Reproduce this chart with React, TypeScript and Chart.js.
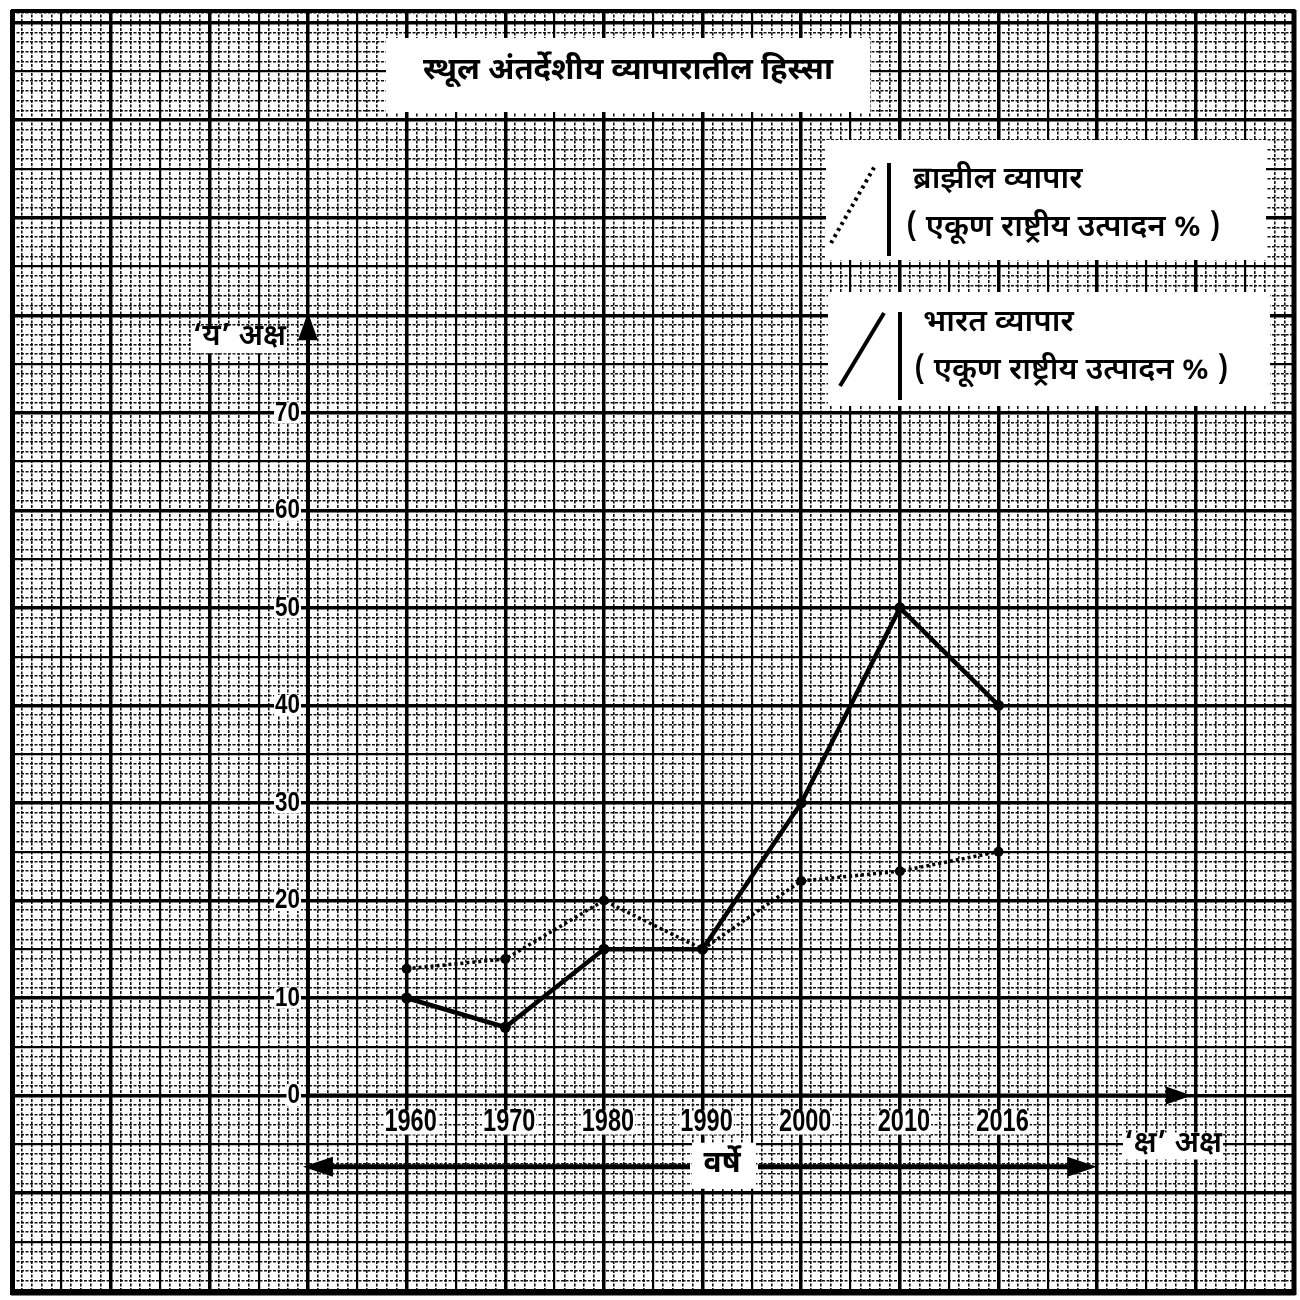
import React, { useEffect, useRef } from "react";
import { Chart, registerables } from "chart.js";

Chart.register(...registerables);

// ---- data ----
const years = ["1960", "1970", "1980", "1990", "2000", "2010", "2016"];
const indiaTrade = [10, 7, 15, 15, 30, 50, 40];
const brazilTrade = [13, 14, 20, 15, 22, 23, 25];
const yTickValues = [0, 10, 20, 30, 40, 50, 60, 70];

// ---- texts ----
const titleText = "स्थूल अंतर्देशीय व्यापारातील हिस्सा";
const brazilLabel = "ब्राझील व्यापार";
const indiaLabel = "भारत व्यापार";
const legendSub = "( एकूण राष्ट्रीय उत्पादन % )";
const yAxisTitle = "‘य’ अक्ष";
const xAxisTitle = "‘क्ष’ अक्ष";
const yearsCaption = "वर्षे";

const DEVA = "'Noto Sans Devanagari', 'Lohit Devanagari', 'Noto Sans', 'DejaVu Sans', sans-serif";
const NUM = "'Liberation Sans Narrow', 'Liberation Sans', Arial, sans-serif";

const X_MIN = -4;
const X_MAX = 9;
const Y_MIN = -20.4;
const Y_MAX = 111.3;

const range = (a: number, b: number) => {
  const out: number[] = [];
  for (let k = a; k <= b; k++) out.push(k);
  return out;
};

function whiteText(
  ctx: CanvasRenderingContext2D,
  text: string,
  x: number,
  y: number,
  align: CanvasTextAlign,
  font: string,
  pad = 3,
  sx = 1
) {
  ctx.save();
  ctx.font = font;
  ctx.textAlign = align;
  ctx.textBaseline = "middle";
  const m = ctx.measureText(text);
  const w = m.width * sx;
  const left = align === "center" ? x - w / 2 : align === "right" ? x - w : x;
  const h = (m.actualBoundingBoxAscent || 12) + (m.actualBoundingBoxDescent || 4);
  ctx.fillStyle = "#fff";
  ctx.fillRect(left - pad, y - h / 2 - pad, w + pad * 2, h + pad * 2);
  ctx.fillStyle = "#000";
  ctx.translate(x, y);
  ctx.scale(sx, 1);
  ctx.fillText(text, 0, 0);
  ctx.restore();
}

const paperPlugin = {
  id: "paperPlugin",
  beforeDatasetsDraw(chart: any) {
    const ctx: CanvasRenderingContext2D = chart.ctx;
    const xs = chart.scales.x;
    const ys = chart.scales.y;
    const px = (v: number) => xs.getPixelForValue(v);
    const py = (v: number) => ys.getPixelForValue(v);
    const ca = chart.chartArea;
    ctx.save();

    // outer frame
    ctx.strokeStyle = "#000";
    ctx.lineWidth = 4;
    ctx.strokeRect(ca.left + 1, ca.top + 1, ca.right - ca.left - 2, ca.bottom - ca.top - 2);

    // title box
    ctx.fillStyle = "#fff";
    ctx.fillRect(386, 38, 484, 74);
    ctx.fillStyle = "#000";
    ctx.font = `bold 31px ${DEVA}`;
    ctx.textAlign = "center";
    ctx.textBaseline = "middle";
    ctx.fillText(titleText, 628, 73);

    // legend boxes
    ctx.fillStyle = "#fff";
    ctx.fillRect(826, 140, 440, 120);
    ctx.fillRect(828, 292, 442, 114);

    // brazil legend symbol (dotted slash)
    ctx.strokeStyle = "#000";
    ctx.lineWidth = 4;
    ctx.setLineDash([3, 4]);
    ctx.beginPath();
    ctx.moveTo(831, 243);
    ctx.lineTo(876, 164);
    ctx.stroke();
    ctx.setLineDash([]);
    ctx.lineWidth = 4;
    ctx.beginPath();
    ctx.moveTo(889, 163);
    ctx.lineTo(889, 256);
    ctx.stroke();

    // india legend symbol (solid slash)
    ctx.beginPath();
    ctx.moveTo(840, 386);
    ctx.lineTo(884, 313);
    ctx.stroke();
    ctx.beginPath();
    ctx.moveTo(900, 312);
    ctx.lineTo(900, 400);
    ctx.stroke();

    ctx.fillStyle = "#000";
    ctx.textAlign = "left";
    ctx.textBaseline = "middle";
    ctx.font = `600 31px ${DEVA}`;
    ctx.fillText(brazilLabel, 913, 182);
    ctx.fillText(legendSub, 906, 230);
    ctx.fillText(indiaLabel, 923, 325);
    ctx.fillText(legendSub, 914, 373);

    // axes
    const ox = px(-1);
    const oy = py(0);
    ctx.lineWidth = 4;
    ctx.beginPath();
    ctx.moveTo(ox, oy + 2);
    ctx.lineTo(ox, py(78.5));
    ctx.stroke();
    const ty = py(80.3);
    ctx.beginPath();
    ctx.moveTo(ox, ty);
    ctx.lineTo(ox - 10, ty + 28);
    ctx.lineTo(ox + 10, ty + 28);
    ctx.closePath();
    ctx.fill();

    ctx.beginPath();
    ctx.moveTo(ox - 2, oy);
    ctx.lineTo(px(7.75), oy);
    ctx.stroke();
    const tx = px(7.96);
    ctx.beginPath();
    ctx.moveTo(tx, oy);
    ctx.lineTo(tx - 26, oy - 9);
    ctx.lineTo(tx - 26, oy + 9);
    ctx.closePath();
    ctx.fill();

    // y tick labels
    yTickValues.forEach((v) => {
      whiteText(ctx, String(v), ox - 8, py(v), "right", `bold 28px ${NUM}`, 1, 0.8);
    });
    // x tick labels
    years.forEach((lab, i) => {
      whiteText(ctx, lab, px(i) + 4, oy + 27, "center", `bold 31px ${NUM}`, 1, 0.76);
    });

    // axis titles
    whiteText(ctx, yAxisTitle, ox - 22, py(77.5), "right", `600 30px ${DEVA}`, 1);
    whiteText(ctx, xAxisTitle, 1124, 1146, "left", `600 30px ${DEVA}`, 1);

    // years double arrow
    const ay = py(-7.3);
    ctx.lineWidth = 5;
    ctx.beginPath();
    ctx.moveTo(ox + 20, ay);
    ctx.lineTo(690, ay);
    ctx.stroke();
    ctx.beginPath();
    ctx.moveTo(ox - 5, ay);
    ctx.lineTo(ox + 25, ay - 10);
    ctx.lineTo(ox + 25, ay + 10);
    ctx.closePath();
    ctx.fill();
    const rx = px(7);
    ctx.beginPath();
    ctx.moveTo(758, ay);
    ctx.lineTo(rx - 20, ay);
    ctx.stroke();
    ctx.beginPath();
    ctx.moveTo(rx, ay);
    ctx.lineTo(rx - 30, ay - 10);
    ctx.lineTo(rx - 30, ay + 10);
    ctx.closePath();
    ctx.fill();
    ctx.fillStyle = "#fff";
    ctx.fillRect(692, ay - 24, 64, 46);
    ctx.fillStyle = "#000";
    ctx.font = `bold 30px ${DEVA}`;
    ctx.textAlign = "center";
    ctx.textBaseline = "middle";
    ctx.fillText(yearsCaption, 722, ay);

    ctx.restore();
  },
};

export default function App() {
  const ref = useRef<HTMLCanvasElement | null>(null);

  useEffect(() => {
    if (!ref.current) return;

    const minorX = range(X_MIN * 10, X_MAX * 10).filter((k) => k % 5 !== 0).map((k) => k / 10);
    const majorX = range(X_MIN * 2, X_MAX * 2).map((k) => k / 2);
    const minorY = range(Math.ceil(Y_MIN), Math.floor(Y_MAX)).filter((k) => k % 5 !== 0);
    const majorY = range(Math.ceil(Y_MIN / 5), Math.floor(Y_MAX / 5)).map((k) => k * 5);

    const isTen = (v: number) => Math.abs(v - Math.round(v)) < 1e-6;

    const chart = new Chart(ref.current, {
      type: "line",
      data: {
        datasets: [
          {
            label: "Brazil",
            data: brazilTrade.map((v, i) => ({ x: i, y: v })),
            borderColor: "#000",
            backgroundColor: "#000",
            borderWidth: 3.5,
            borderDash: [3, 3],
            pointRadius: 5,
            pointBorderWidth: 0,
            pointBackgroundColor: "#000",
            tension: 0,
            xAxisID: "x",
            yAxisID: "y",
          },
          {
            label: "India",
            data: indiaTrade.map((v, i) => ({ x: i, y: v })),
            borderColor: "#000",
            backgroundColor: "#000",
            borderWidth: 4.5,
            pointRadius: 5.5,
            pointBorderWidth: 0,
            pointBackgroundColor: "#000",
            tension: 0,
            xAxisID: "x",
            yAxisID: "y",
          },
        ],
      },
      options: {
        responsive: false,
        maintainAspectRatio: false,
        animation: false,
        layout: { padding: { left: 12, top: 10, right: 3, bottom: 4 } },
        plugins: { legend: { display: false }, tooltip: { enabled: false }, title: { display: false } },
        scales: {
          xm: {
            type: "linear",
            position: "bottom",
            min: X_MIN,
            max: X_MAX,
            afterBuildTicks: (s: any) => { s.ticks = minorX.map((v) => ({ value: v })); },
            ticks: { display: false, autoSkip: false },
            grid: { drawTicks: false, color: "#111", lineWidth: 1.6, z: -2 },
            border: { display: false, dash: [3, 1.5] },
          },
          ym: {
            type: "linear",
            position: "left",
            min: Y_MIN,
            max: Y_MAX,
            afterBuildTicks: (s: any) => { s.ticks = minorY.map((v) => ({ value: v })); },
            ticks: { display: false, autoSkip: false },
            grid: { drawTicks: false, color: "#111", lineWidth: 1.6, z: -2 },
            border: { display: false, dash: [3, 1.5] },
          },
          x: {
            type: "linear",
            position: "bottom",
            min: X_MIN,
            max: X_MAX,
            afterBuildTicks: (s: any) => { s.ticks = majorX.map((v) => ({ value: v })); },
            ticks: { display: false, autoSkip: false },
            grid: {
              drawTicks: false,
              color: "#000",
              z: -1,
              lineWidth: (c: any) => (c.tick && isTen(c.tick.value) ? 3.5 : 2.2),
            },
            border: { display: false },
          },
          y: {
            type: "linear",
            position: "left",
            min: Y_MIN,
            max: Y_MAX,
            afterBuildTicks: (s: any) => { s.ticks = majorY.map((v) => ({ value: v })); },
            ticks: { display: false, autoSkip: false },
            grid: {
              drawTicks: false,
              color: "#000",
              z: -1,
              lineWidth: (c: any) => (c.tick && c.tick.value % 10 === 0 ? 3.5 : 2.2),
            },
            border: { display: false },
          },
        },
      },
      plugins: [paperPlugin],
    } as any);

    return () => chart.destroy();
  }, []);

  return (
    <div style={{ position: "absolute", left: 0, top: 0, width: 1300, height: 1300, background: "#fff" }}>
      <canvas ref={ref} width={1300} height={1300} style={{ display: "block" }} />
    </div>
  );
}
